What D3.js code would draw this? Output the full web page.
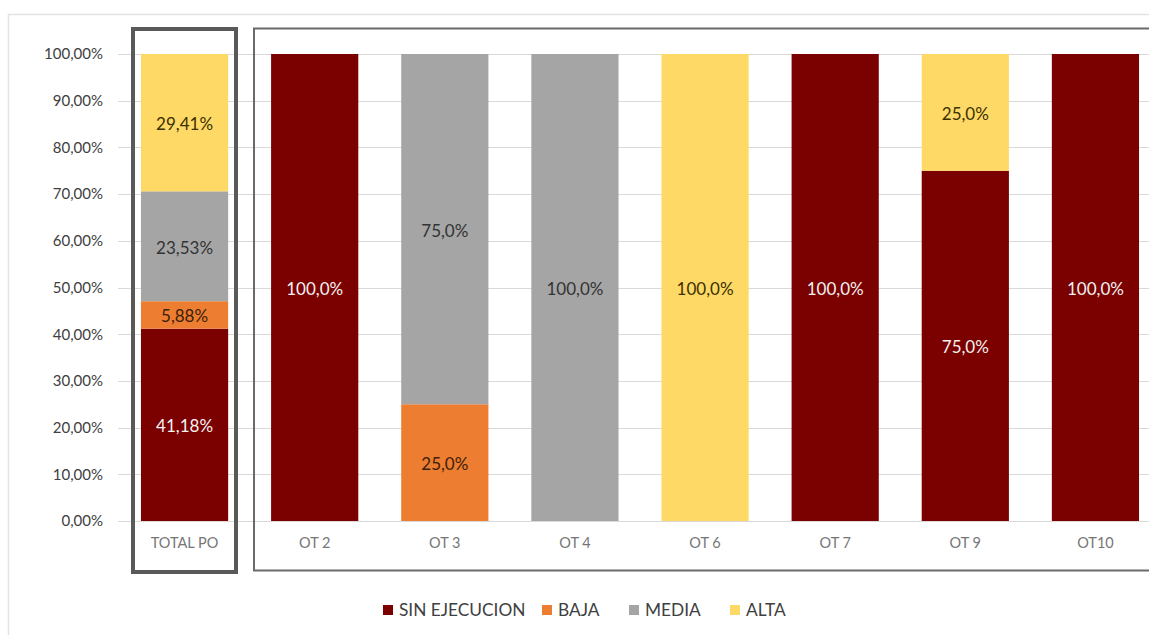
<!DOCTYPE html>
<html>
<head>
<meta charset="utf-8">
<script src="https://cdn.jsdelivr.net/npm/d3@7"></script>
<style>
  body { margin: 0; background: #fff; }
  svg { display: block; font-family: Lato, "Open Sans", sans-serif; }
</style>
</head>
<body>
<script>
// categorias y series (porcentajes)
const categories = ['TOTAL PO', 'OT 2', 'OT 3', 'OT 4', 'OT 6', 'OT 7', 'OT 9', 'OT10'];
const series = ['SIN EJECUCION', 'BAJA', 'MEDIA', 'ALTA'];
const sinEjecucion = [41.18, 100, 0, 0, 0, 100, 75, 100];
const baja = [5.88, 0, 25, 0, 0, 0, 0, 0];
const media = [23.53, 0, 75, 100, 0, 0, 0, 0];
const alta = [29.41, 0, 0, 0, 100, 0, 25, 0];
const yTicks = [0, 10, 20, 30, 40, 50, 60, 70, 80, 90, 100];

const colors = ['#7b0000', '#ed7d31', '#a5a5a5', '#ffd966'];
const labelColors = ['#f2f2f2', '#3d1f08', '#333333', '#3a3000'];

const width = 1149, height = 635;
const svg = d3.select('body').append('svg').attr('width', width).attr('height', height);

const x = d3.scaleBand().domain(categories).range([119.5, 1160.5]).paddingInner(0.33).paddingOuter(0.165);
const y = d3.scaleLinear().domain([0, 100]).range([521, 54]);

// marco exterior del grafico
svg.append('rect').attr('x', 8.5).attr('y', 14.5).attr('width', 1160).attr('height', 640)
  .attr('fill', 'none').attr('stroke', '#e3e3e3').attr('stroke-width', 1.5);

// rejilla
svg.append('g').selectAll('line').data(yTicks).join('line')
  .attr('x1', 118).attr('x2', width)
  .attr('y1', d => Math.round(y(d)) + 0.5).attr('y2', d => Math.round(y(d)) + 0.5)
  .attr('stroke', '#d9d9d9').attr('stroke-width', 1);

// eje y
const yAxis = svg.append('g').attr('transform', 'translate(118,0)')
  .call(d3.axisLeft(y).tickValues(yTicks).tickSize(0).tickPadding(15)
    .tickFormat(d => d3.format('.2f')(d).replace('.', ',') + '%'));
yAxis.select('.domain').remove();
yAxis.selectAll('text').attr('font-size', 15).attr('fill', '#404040').attr('font-family', 'Lato, sans-serif');

// datos apilados
const table = categories.map((c, i) => ({
  cat: c, 'SIN EJECUCION': sinEjecucion[i], 'BAJA': baja[i], 'MEDIA': media[i], 'ALTA': alta[i]
}));
const stacked = d3.stack().keys(series)(table);

const layer = svg.append('g').selectAll('g').data(stacked).join('g')
  .attr('fill', (d, i) => colors[i]);
layer.selectAll('rect').data(d => d.filter(p => p[1] - p[0] > 0)).join('rect')
  .attr('x', p => x(p.data.cat))
  .attr('width', x.bandwidth())
  .attr('y', p => y(p[1]))
  .attr('height', p => y(p[0]) - y(p[1]));

// etiquetas de datos
svg.append('g').selectAll('g').data(stacked).join('g')
  .attr('fill', (d, i) => labelColors[i])
  .selectAll('text').data(d => d.filter(p => p[1] - p[0] > 0)).join('text')
  .attr('x', p => x(p.data.cat) + x.bandwidth() / 2)
  .attr('y', p => y((p[0] + p[1]) / 2) + 1.5)
  .attr('dy', '0.35em')
  .attr('text-anchor', 'middle')
  .attr('font-size', 17)
  .text(p => {
    const v = p[1] - p[0];
    const f = p.data.cat === 'TOTAL PO' ? '.2f' : '.1f';
    return d3.format(f)(v).replace('.', ',') + '%';
  });

// eje x
const xAxis = svg.append('g').attr('transform', 'translate(0,521)')
  .call(d3.axisBottom(x).tickSize(0).tickPadding(17));
xAxis.select('.domain').remove();
xAxis.selectAll('text').attr('font-size', 14.5).attr('fill', '#767676').attr('font-family', 'Lato, sans-serif');

// recuadros
svg.append('rect').attr('x', 133).attr('y', 29).attr('width', 103).attr('height', 543)
  .attr('fill', 'none').attr('stroke', '#595959').attr('stroke-width', 4);
svg.append('rect').attr('x', 254).attr('y', 28.5).attr('width', 1000).attr('height', 542)
  .attr('fill', 'none').attr('stroke', '#6a6a6a').attr('stroke-width', 2);

// leyenda
const legendX = [383, 542, 629, 730];
const legend = svg.append('g').selectAll('g').data(series).join('g')
  .attr('transform', (d, i) => `translate(${legendX[i]},610)`);
legend.append('rect').attr('x', 0).attr('y', -5).attr('width', 10).attr('height', 10)
  .attr('fill', (d, i) => colors[i]);
legend.append('text').attr('x', 16).attr('dy', '0.36em')
  .attr('font-size', 17.3).attr('fill', '#404040').text(d => d);
</script>
</body>
</html>
